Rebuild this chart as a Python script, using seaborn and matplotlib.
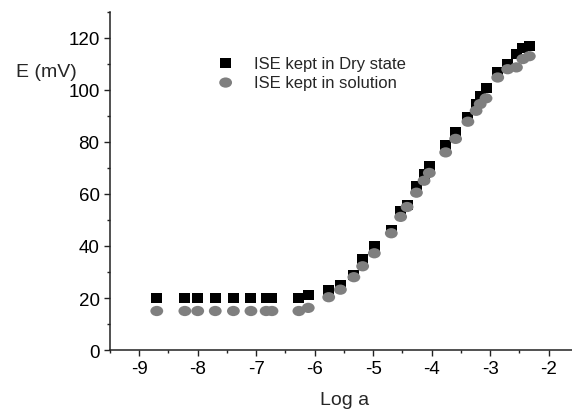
import matplotlib
matplotlib.use('Agg')
import matplotlib.pyplot as plt
import seaborn as sns
import pandas as pd
from matplotlib.path import Path
from matplotlib.transforms import Affine2D
from matplotlib.ticker import MultipleLocator

# --- Datos ---
log_a = [-8.70, -8.22, -8.00, -7.70, -7.39, -7.09, -6.83, -6.73, -6.27,
         -6.11, -5.76, -5.56, -5.33, -5.18, -4.98, -4.69, -4.53, -4.42,
         -4.26, -4.13, -4.04, -3.76, -3.59, -3.38, -3.24, -3.17, -3.07,
         -2.87, -2.70, -2.55, -2.44, -2.33]
e_dry = [20, 20, 20, 20, 20, 20, 20, 20, 20,
         21.2, 23.2, 25, 29, 35, 40, 46.3, 53.3, 55.8,
         62.9, 67.7, 70.9, 78.8, 83.7, 89.8, 94.6, 97.8, 100.8,
         107, 110, 113.8, 116, 117.1]
e_sol = [15, 15, 15, 15, 15, 15, 15, 15, 15,
         16.2, 20.3, 23.2, 28, 32.2, 37.2, 44.9, 51.2, 55,
         60.5, 65.1, 68.1, 76, 81.2, 87.8, 92, 94.6, 96.8,
         104.8, 108, 108.7, 111.9, 113]
label_dry = 'ISE kept in Dry state'
label_sol = 'ISE kept in solution'

df = pd.DataFrame({'log_a': log_a, 'dry': e_dry, 'sol': e_sol})

sns.set_style('ticks')
plt.rcParams['font.family'] = ['Liberation Sans', 'DejaVu Sans']
plt.rcParams['axes.unicode_minus'] = False

fig = plt.figure(figsize=(5.72, 4.10), dpi=100)
ax = fig.add_axes([0.1923, 0.1439, 0.8077, 0.8244])

# marcadores un poco estirados en horizontal, como en la figura original
ellipse = Path.unit_circle().transformed(Affine2D().scale(1.25, 1.0))
rect = Path([(-0.55, -0.5), (0.55, -0.5), (0.55, 0.5), (-0.55, 0.5), (-0.55, -0.5)],
            [Path.MOVETO, Path.LINETO, Path.LINETO, Path.LINETO, Path.CLOSEPOLY])

sns.scatterplot(data=df, x='log_a', y='dry', marker=rect, s=62, color='black',
                edgecolor='none', label=label_dry, ax=ax, zorder=3)
sns.scatterplot(data=df, x='log_a', y='sol', marker=ellipse, s=85, color='#7f7f7f',
                edgecolor='none', label=label_sol, ax=ax, zorder=4)

ax.set_xlim(-9.5, -1.6)
ax.set_ylim(0, 130)
ax.xaxis.set_major_locator(MultipleLocator(1))
ax.xaxis.set_minor_locator(MultipleLocator(0.5))
ax.yaxis.set_minor_locator(MultipleLocator(10))
ax.set_yticks([0, 20, 40, 60, 80, 100, 120])

for s in ['top', 'right']:
    ax.spines[s].set_visible(False)
for s in ['left', 'bottom']:
    ax.spines[s].set_linewidth(1.1)
    ax.spines[s].set_color('#222222')

ax.tick_params(which='major', direction='out', length=4.5, width=1.0,
               labelsize=13.5, pad=3, colors='#222222', labelcolor='black')
ax.tick_params(which='minor', direction='out', length=2.5, width=1.0, colors='#222222')

ax.set_xlabel('Log a', fontsize=14)
ax.xaxis.set_label_coords(0.508, -0.122)
ax.set_ylabel('E (mV)', fontsize=14, rotation=0, ha='center', va='center')
ax.yaxis.set_label_coords(-0.138, 0.825)

ax.legend(loc='upper left', bbox_to_anchor=(0.207, 0.905), frameon=False,
          fontsize=12, handlelength=1.0, handletextpad=1.2, labelspacing=0.25,
          borderpad=0.2)

plt.savefig('out.png', dpi=100)
